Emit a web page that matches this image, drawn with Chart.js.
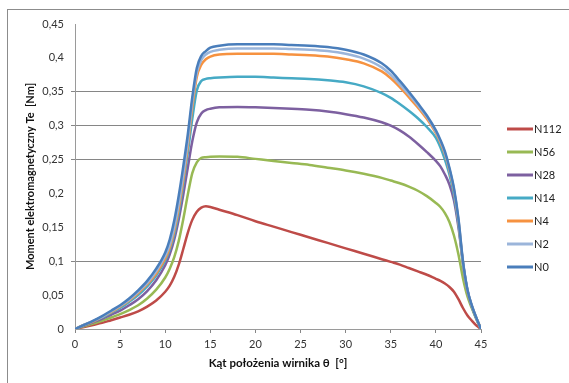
<!DOCTYPE html>
<html>
<head>
<meta charset="utf-8">
<script src="https://cdn.jsdelivr.net/npm/chart.js@4"></script>
<style>
  html, body { margin: 0; padding: 0; background: #fff; overflow: hidden; }
  #frame { position: absolute; left: 7px; top: 9px; width: 600px; height: 420px; border: 1px solid #8c8c8c; }
  #chart { position: absolute; left: 0; top: 0; }
</style>
</head>
<body>
<div id="frame"></div>
<canvas id="chart" width="569" height="383"></canvas>
<script>
// rotor angle [deg]
const angles = [0, 1, 2, 3, 4, 5, 6, 7, 8, 9, 10, 10.5, 11, 11.5, 12, 12.5, 13, 13.5, 14, 14.5, 15, 16, 18, 20, 22, 24, 26, 28, 30, 32, 34, 35, 36, 37, 38, 39, 40, 40.5, 41, 41.5, 42, 42.5, 43, 43.5, 44, 44.5, 45];

// torque Te [Nm] for each mesh
const n112 = [0, 0.003, 0.006, 0.009, 0.013, 0.017, 0.021, 0.026, 0.033, 0.042, 0.055, 0.064, 0.077, 0.095, 0.118, 0.142, 0.161, 0.173, 0.179, 0.181, 0.18, 0.176, 0.168, 0.159, 0.151, 0.143, 0.135, 0.127, 0.119, 0.111, 0.103, 0.099, 0.095, 0.09, 0.085, 0.08, 0.074, 0.071, 0.067, 0.062, 0.055, 0.044, 0.031, 0.02, 0.012, 0.005, 0];
const n56 = [0, 0.004, 0.008, 0.012, 0.017, 0.022, 0.028, 0.035, 0.045, 0.058, 0.076, 0.089, 0.106, 0.13, 0.162, 0.198, 0.23, 0.246, 0.2525, 0.2535, 0.254, 0.2545, 0.254, 0.251, 0.248, 0.245, 0.242, 0.238, 0.234, 0.229, 0.223, 0.219, 0.215, 0.21, 0.204, 0.196, 0.186, 0.18, 0.171, 0.158, 0.138, 0.11, 0.075, 0.048, 0.03, 0.014, 0];
const n28 = [0, 0.005, 0.01, 0.015, 0.021, 0.027, 0.035, 0.044, 0.056, 0.072, 0.094, 0.11, 0.132, 0.162, 0.198, 0.238, 0.277, 0.305, 0.318, 0.323, 0.325, 0.327, 0.3275, 0.327, 0.326, 0.325, 0.3235, 0.321, 0.317, 0.312, 0.305, 0.3, 0.293, 0.284, 0.273, 0.261, 0.248, 0.24, 0.228, 0.213, 0.19, 0.15, 0.098, 0.057, 0.033, 0.015, 0];
const n14 = [0, 0.006, 0.011, 0.017, 0.024, 0.031, 0.04, 0.05, 0.063, 0.079, 0.101, 0.117, 0.14, 0.172, 0.213, 0.26, 0.31, 0.352, 0.366, 0.369, 0.37, 0.371, 0.372, 0.372, 0.371, 0.37, 0.369, 0.367, 0.364, 0.358, 0.348, 0.341, 0.332, 0.322, 0.311, 0.298, 0.282, 0.268, 0.25, 0.228, 0.198, 0.155, 0.096, 0.056, 0.032, 0.015, 0];
const n4 = [0, 0.006, 0.011, 0.018, 0.025, 0.033, 0.042, 0.053, 0.066, 0.082, 0.104, 0.12, 0.145, 0.178, 0.22, 0.27, 0.327, 0.372, 0.39, 0.398, 0.402, 0.405, 0.406, 0.406, 0.406, 0.405, 0.404, 0.402, 0.398, 0.392, 0.38, 0.37, 0.357, 0.342, 0.327, 0.31, 0.289, 0.275, 0.258, 0.234, 0.204, 0.159, 0.097, 0.056, 0.033, 0.016, 0];
const n2 = [0, 0.006, 0.012, 0.018, 0.026, 0.034, 0.043, 0.055, 0.068, 0.085, 0.108, 0.124, 0.15, 0.185, 0.228, 0.277, 0.335, 0.378, 0.397, 0.405, 0.409, 0.412, 0.414, 0.414, 0.414, 0.413, 0.412, 0.41, 0.406, 0.399, 0.386, 0.375, 0.361, 0.346, 0.33, 0.313, 0.291, 0.277, 0.26, 0.236, 0.206, 0.161, 0.099, 0.057, 0.034, 0.016, 0];
const n0 = [0, 0.006, 0.012, 0.019, 0.027, 0.035, 0.045, 0.057, 0.071, 0.089, 0.113, 0.132, 0.16, 0.197, 0.24, 0.287, 0.342, 0.385, 0.403, 0.41, 0.415, 0.418, 0.42, 0.42, 0.42, 0.419, 0.418, 0.416, 0.412, 0.405, 0.392, 0.381, 0.366, 0.35, 0.333, 0.315, 0.293, 0.279, 0.262, 0.238, 0.208, 0.163, 0.1, 0.058, 0.034, 0.016, 0];

const seriesNames = ['N112', 'N56', 'N28', 'N14', 'N4', 'N2', 'N0'];
const seriesValues = [n112, n56, n28, n14, n4, n2, n0];
const seriesColors = ['#BE4B48', '#98B954', '#7D60A0', '#46AAC5', '#F69240', '#9BB5DA', '#4A7EBB'];

const xTickLabels = ['0', '5', '10', '15', '20', '25', '30', '35', '40', '45'];
const yTickLabels = ['0', '0,05', '0,1', '0,15', '0,2', '0,25', '0,3', '0,35', '0,4', '0,45'];
const shownGrid = [0.1, 0.25, 0.3, 0.35];

const FONT = 'Lato, "Open Sans", sans-serif';
const gridGray = '#868686';

// N0 first so it is painted on top
const datasets = seriesNames.map((name, i) => ({
  label: name,
  data: angles.map((a, k) => ({ x: a, y: seriesValues[i][k] })),
  borderColor: seriesColors[i],
  backgroundColor: seriesColors[i],
  borderWidth: 2.5,
  pointRadius: 0,
  fill: false,
  cubicInterpolationMode: 'monotone'
})).reverse();

const sideLegend = {
  id: 'sideLegend',
  afterDraw(chart) {
    const ctx = chart.ctx;
    const x0 = chart.chartArea.right + 26;
    const y0 = 129;
    const step = 23;
    ctx.save();
    ctx.font = '11px ' + FONT;
    ctx.textBaseline = 'middle';
    ctx.fillStyle = '#222';
    seriesNames.forEach((name, i) => {
      const y = y0 + i * step;
      ctx.strokeStyle = seriesColors[i];
      ctx.lineWidth = 3;
      ctx.beginPath();
      ctx.moveTo(x0, y);
      ctx.lineTo(x0 + 26, y);
      ctx.stroke();
      ctx.fillText(name, x0 + 27, y + 0.5);
    });
    ctx.restore();
  }
};

const isShown = (c) => shownGrid.some((g) => Math.abs(g - c.tick.value) < 1e-6);

new Chart(document.getElementById('chart').getContext('2d'), {
  type: 'line',
  data: { datasets: datasets },
  options: {
    responsive: false,
    animation: false,
    devicePixelRatio: 1,
    layout: { padding: { left: 0, top: 24, right: 88, bottom: 0 } },
    plugins: {
      legend: { display: false },
      tooltip: { enabled: false }
    },
    scales: {
      x: {
        type: 'linear',
        min: 0,
        max: 45,
        afterFit: (scale) => { scale.height = 54; },
        afterBuildTicks: (scale) => {
          scale.ticks = xTickLabels.map((t) => ({ value: Number(t) }));
        },
        ticks: {
          color: '#333',
          font: { family: FONT, size: 11 },
          padding: 5,
          maxRotation: 0,
          callback: (v, i) => xTickLabels[i]
        },
        grid: {
          drawOnChartArea: false,
          tickLength: 4,
          tickColor: gridGray
        },
        border: { color: '#9a9a9a', width: 1 },
        title: {
          display: true,
          text: 'Kąt położenia wirnika θ  [°]',
          color: '#111',
          font: { family: FONT, size: 11.5, weight: 'bold' },
          padding: { top: 4, bottom: 13 }
        }
      },
      y: {
        min: 0,
        max: 0.45,
        afterFit: (scale) => { scale.width = 75; },
        afterBuildTicks: (scale) => {
          scale.ticks = yTickLabels.map((t) => ({ value: Number(t.replace(',', '.')) }));
        },
        ticks: {
          color: '#333',
          font: { family: FONT, size: 11 },
          padding: 7,
          callback: (v, i) => yTickLabels[i]
        },
        grid: {
          tickLength: 4,
          lineWidth: 1,
          color: (c) => isShown(c) ? gridGray : 'rgba(0,0,0,0)',
          tickColor: (c) => isShown(c) ? gridGray : 'rgba(0,0,0,0)'
        },
        border: { color: '#9a9a9a', width: 1 },
        title: {
          display: true,
          text: 'Moment elektromagnetyczny Te  [Nm]',
          color: '#111',
          font: { family: FONT, size: 11, weight: 'bold' },
          padding: { top: 24, bottom: 0 }
        }
      }
    }
  },
  plugins: [sideLegend]
});
</script>
</body>
</html>
